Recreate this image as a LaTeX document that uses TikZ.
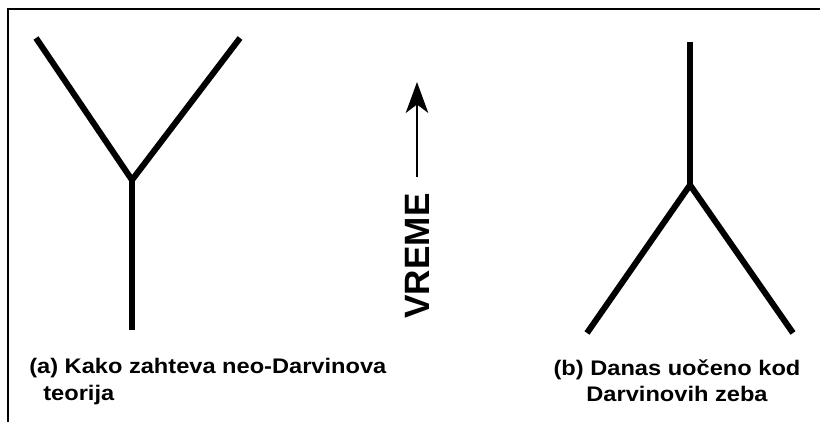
\documentclass[tikz,border=0pt]{standalone}
\usepackage{fontspec}
\setmainfont{Liberation Sans}
\newfontfamily\capfont[FakeStretch=1.12]{Liberation Sans}
\usetikzlibrary{arrows.meta,positioning}

\begin{document}
\begin{tikzpicture}[x=0.025cm,y=-0.025cm,line join=miter,
   branch/.style={line width=4.3pt,line cap=butt},
   caption/.style={font=\capfont\bfseries\fontsize{15}{19}\selectfont,inner sep=0pt}]
  \useasboundingbox (0,0) rectangle (820,422);
  % frame, cut off at the right and bottom
  \draw[line width=1.8pt] (8,422) -- (8,9) -- (820,9);
  % (a) one line splitting in two
  \coordinate (aL) at (36,38);
  \coordinate (aR) at (240,38);
  \coordinate (aJ) at (132,180);
  \coordinate (aB) at (132,330);
  \draw[branch] (aL) -- (aJ) -- (aR);
  \draw[branch] (aJ) -- (aB);
  % (b) two lines joining into one
  \coordinate (bT) at (690,42);
  \coordinate (bJ) at (690,185);
  \coordinate (bL) at (587,333);
  \coordinate (bR) at (793,333);
  \draw[branch] (bL) -- (bJ) -- (bR);
  \draw[branch] (bJ) -- (bT);
  % time axis
  \node[rotate=90,inner sep=0pt,font=\bfseries\fontsize{25}{30}\selectfont]
       (vreme) at (417,256) {VREME};
  \coordinate (tip) at (417,82);
  \draw[line width=1.4pt,shorten <=0.4cm,
        -{Stealth[length=22pt,width=16pt,inset=6pt]}] (vreme.east) -- (tip);
  % captions
  \node[caption,anchor=north west,align=left] (capA) at (29,358)
       {(a) Kako zahteva neo-Darvinova\\\hspace*{10pt}teorija};
  \node[caption,anchor=north,align=center] (capB) at (677,359)
       {(b) Danas uočeno kod\\Darvinovih zeba};
\end{tikzpicture}
\end{document}
